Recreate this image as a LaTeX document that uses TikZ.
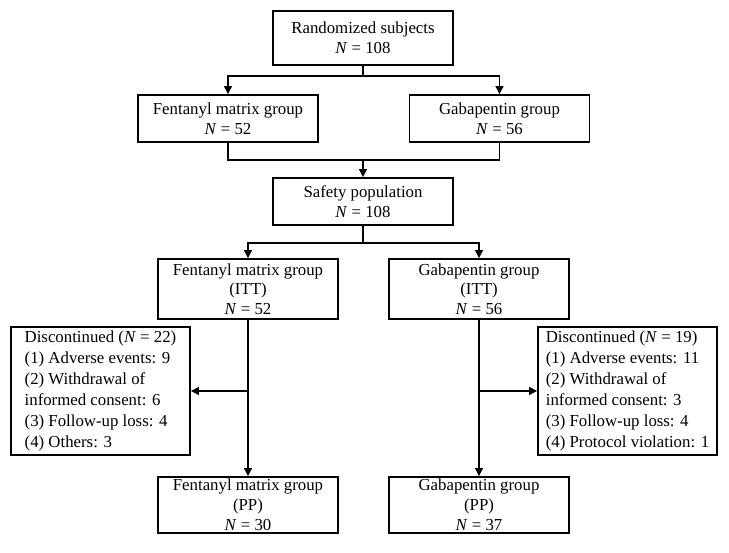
\documentclass[tikz,border=0pt]{standalone}
\usepackage{fontspec}
\setmainfont{Liberation Serif}
\usetikzlibrary{arrows.meta,calc}
\begin{document}
\begin{tikzpicture}[x=1pt,y=-1pt,
  box/.style={draw=black,line width=1.9pt,minimum width=180pt,inner sep=0pt,align=center,
    font=\fontsize{16.8}{20}\selectfont},
  disc/.style={draw=black,line width=1.9pt,minimum width=179pt,minimum height=128pt,inner sep=0pt,align=left,
    font=\fontsize{16.8}{21}\selectfont},
  conn/.style={line width=1.3pt},
  arr/.style={conn,-{Triangle[length=8pt,width=8pt]}}]
\useasboundingbox (0,0) rectangle (729,553);
\node[box,minimum height=54pt] (r) at (363,38) {Randomized subjects\\\textit{N} = 108};
\node[box,minimum height=47pt] (fent) at (228,118.5) {Fentanyl matrix group\\\textit{N} = 52};
\node[box,minimum height=47pt] (gab) at (499.5,118.5) {Gabapentin group\\\textit{N} = 56};
\node[box,minimum height=47pt] (safe) at (363,201.5) {Safety population\\\textit{N} = 108};
\node[box,minimum height=60pt,font=\fontsize{16.8}{19.5}\selectfont] (ittf) at (248,289) {Fentanyl matrix group\\(ITT)\\\textit{N} = 52};
\node[box,minimum height=60pt,font=\fontsize{16.8}{19.5}\selectfont] (ittg) at (479,289) {Gabapentin group\\(ITT)\\\textit{N} = 56};
\node[disc] (dl) at (100.5,391) {Discontinued (\textit{N} = 22)\\(1) Adverse events: 9\\(2) Withdrawal of\\informed consent: 6\\(3) Follow-up loss: 4\\(4) Others: 3};
\node[disc] (dr) at (627.5,391) {Discontinued (\textit{N} = 19)\\(1) Adverse events: 11\\(2) Withdrawal of\\informed consent: 3\\(3) Follow-up loss: 4\\(4) Protocol violation: 1};
\node[box,minimum height=56pt,font=\fontsize{16.8}{20}\selectfont] (ppf) at (248,505) {Fentanyl matrix group\\(PP)\\\textit{N} = 30};
\node[box,minimum height=56pt,font=\fontsize{16.8}{20}\selectfont] (ppg) at (479,505) {Gabapentin group\\(PP)\\\textit{N} = 37};
\coordinate (j1) at (363,76);
\coordinate (j2) at (363,160);
\coordinate (j3) at (363,243);
\coordinate (bl) at (248,391);
\coordinate (br) at (479,391);
\draw[conn] (r.south) -- (j1);
\draw[arr] (j1) -| (fent.north);
\draw[arr] (j1) -| (gab.north);
\draw[conn] (fent.south) |- (j2);
\draw[conn] (gab.south) |- (j2);
\draw[arr] (j2) -- (safe.north);
\draw[conn] (safe.south) -- (j3);
\draw[arr] (j3) -| (ittf.north);
\draw[arr] (j3) -| (ittg.north);
\draw[arr] (ittf.south) -- (ppf.north);
\draw[arr] (ittg.south) -- (ppg.north);
\draw[arr] (bl) -- (bl -| dl.east);
\draw[arr] (br) -- (br -| dr.west);
\end{tikzpicture}
\end{document}
